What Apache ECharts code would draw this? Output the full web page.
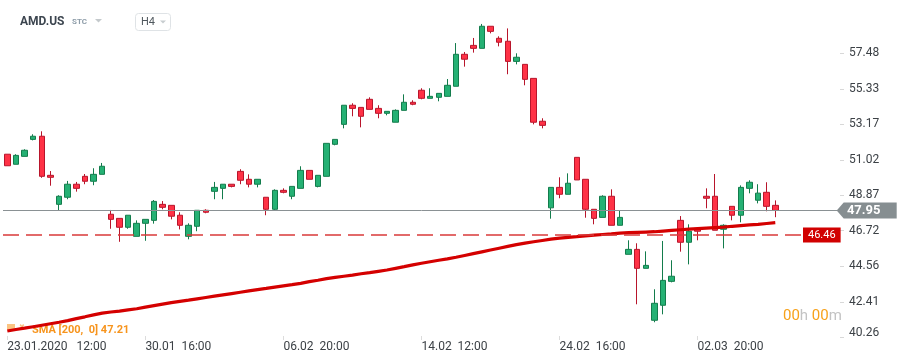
<!DOCTYPE html>
<html><head><meta charset="utf-8">
<script src="https://cdn.jsdelivr.net/npm/echarts@6/dist/echarts.min.js"></script>
<style>html,body{margin:0;padding:0;background:#fff}#c{width:908px;height:363px}</style>
</head><body><div id="c"></div>
<script>
const categories = [
'23.01.2020 12:00','23.01.2020 16:00','23.01.2020 20:00',
'24.01.2020 12:00','24.01.2020 16:00','24.01.2020 20:00',
'27.01.2020 12:00','27.01.2020 16:00','27.01.2020 20:00',
'28.01.2020 12:00','28.01.2020 16:00','28.01.2020 20:00',
'29.01.2020 12:00','29.01.2020 16:00','29.01.2020 20:00',
'30.01.2020 12:00','30.01.2020 16:00','30.01.2020 20:00',
'31.01.2020 12:00','31.01.2020 16:00','31.01.2020 20:00',
'03.02.2020 12:00','03.02.2020 16:00','03.02.2020 20:00',
'04.02.2020 12:00','04.02.2020 16:00','04.02.2020 20:00',
'05.02.2020 12:00','05.02.2020 16:00','05.02.2020 20:00',
'06.02.2020 12:00','06.02.2020 16:00','06.02.2020 20:00',
'07.02.2020 12:00','07.02.2020 16:00','07.02.2020 20:00',
'10.02.2020 12:00','10.02.2020 16:00','10.02.2020 20:00',
'11.02.2020 12:00','11.02.2020 16:00','11.02.2020 20:00',
'12.02.2020 12:00','12.02.2020 16:00','12.02.2020 20:00',
'13.02.2020 12:00','13.02.2020 16:00','13.02.2020 20:00',
'14.02.2020 12:00','14.02.2020 16:00','14.02.2020 20:00',
'18.02.2020 12:00','18.02.2020 16:00','18.02.2020 20:00',
'19.02.2020 12:00','19.02.2020 16:00','19.02.2020 20:00',
'20.02.2020 12:00','20.02.2020 16:00','20.02.2020 20:00',
'21.02.2020 12:00','21.02.2020 16:00','21.02.2020 20:00',
'24.02.2020 12:00','24.02.2020 16:00','24.02.2020 20:00',
'25.02.2020 12:00','25.02.2020 16:00','25.02.2020 20:00',
'26.02.2020 12:00','26.02.2020 16:00','26.02.2020 20:00',
'27.02.2020 12:00','27.02.2020 16:00','27.02.2020 20:00',
'28.02.2020 12:00','28.02.2020 16:00','28.02.2020 20:00',
'02.03.2020 12:00','02.03.2020 16:00','02.03.2020 20:00',
'03.03.2020 12:00','03.03.2020 16:00','03.03.2020 20:00',
'04.03.2020 12:00','04.03.2020 16:00','04.03.2020 20:00',
'05.03.2020 12:00','05.03.2020 16:00','05.03.2020 20:00',
'06.03.2020 12:00','06.03.2020 16:00','06.03.2020 20:00',
'09.03.2020 12:00','09.03.2020 16:00','09.03.2020 20:00',
'10.03.2020 12:00'
];
const opens = [51.36,50.75,51.23,52.26,52.45,50.08,48.32,48.75,49.54,50.02,49.72,50.14,47.72,47.47,46.93,46.38,47.17,47.35,48.32,48.26,47.66,46.38,46.99,47.96,49.11,49.29,49.54,50.32,49.84,49.54,48.75,48.02,49.17,48.81,49.29,50.38,49.41,50.02,51.96,53.17,54.33,54.20,54.69,54.14,53.84,53.30,54.02,54.51,55.24,54.75,54.81,54.87,55.48,57.42,57.96,57.78,59.12,58.39,58.21,56.99,56.81,55.96,53.36,48.11,49.35,48.93,51.17,49.84,48.02,47.53,48.81,47.05,45.29,45.59,44.44,41.29,42.20,43.65,47.35,46.02,46.81,48.81,48.81,46.81,48.20,47.66,49.29,48.57,49.05,48.26];
const closes = [50.66,51.29,51.60,52.45,50.02,49.96,48.81,49.54,49.29,49.72,50.14,50.63,47.41,46.93,47.66,47.17,47.41,48.50,48.14,47.60,47.05,47.05,47.96,47.84,49.35,49.54,49.41,49.78,49.54,49.84,48.02,49.17,49.05,49.41,50.38,49.84,50.08,52.02,52.26,54.33,54.14,53.66,54.08,53.84,53.96,54.02,54.51,54.39,54.75,54.87,55.05,55.54,57.42,57.12,57.78,59.12,58.81,58.15,56.99,57.24,55.90,53.30,53.11,49.35,48.93,49.60,49.80,48.02,47.47,48.81,47.05,47.53,45.59,44.44,44.62,42.32,43.71,43.96,46.02,46.69,46.69,48.69,46.75,47.05,47.66,49.35,49.66,49.00,48.20,47.95];
const lows = [50.66,50.75,51.23,52.20,49.93,49.45,47.93,48.63,49.09,49.54,49.48,50.14,46.84,46.05,46.84,46.38,46.11,47.15,48.02,47.41,46.80,46.20,46.69,47.78,48.63,48.63,49.35,49.54,49.35,49.35,47.66,47.96,48.99,48.63,49.29,49.84,49.35,50.02,51.90,52.93,53.66,52.99,54.08,53.54,53.72,53.30,54.02,54.33,54.69,54.75,54.57,54.87,55.48,56.67,57.52,57.78,58.69,57.90,56.21,56.81,55.54,53.17,52.93,47.45,48.69,48.93,49.80,47.51,47.11,47.53,47.05,47.05,45.29,42.26,44.44,41.17,41.65,43.59,45.45,44.68,46.14,48.08,46.75,45.65,47.35,47.23,48.99,48.38,47.90,47.54];
const highs = [51.36,51.36,51.66,52.57,52.75,50.34,48.87,49.74,49.68,50.16,50.51,50.83,47.98,47.47,47.66,47.35,47.41,48.58,48.52,48.26,47.84,47.17,47.96,48.02,49.68,49.54,49.54,50.45,50.14,49.84,48.75,49.23,49.29,49.41,50.63,50.38,50.08,52.02,52.26,54.33,54.45,54.20,54.81,54.33,53.96,54.08,54.99,54.63,55.36,55.36,55.05,55.92,58.10,57.56,58.41,59.26,59.12,58.51,58.99,57.48,56.81,55.96,53.54,49.35,49.96,50.20,51.17,49.84,48.02,48.87,49.23,47.96,46.14,45.96,45.47,43.17,46.10,44.93,47.61,47.11,46.93,49.29,50.16,47.11,48.20,49.47,49.78,49.54,49.66,48.56];
const smaValues = [40.64,40.73,40.81,40.90,40.99,41.08,41.17,41.27,41.39,41.50,41.62,41.72,41.79,41.85,41.92,41.99,42.09,42.18,42.27,42.36,42.44,42.51,42.59,42.67,42.75,42.83,42.91,42.99,43.07,43.15,43.22,43.30,43.38,43.45,43.53,43.63,43.72,43.82,43.89,43.96,44.03,44.11,44.18,44.26,44.34,44.44,44.54,44.65,44.75,44.84,44.93,45.01,45.11,45.22,45.33,45.44,45.55,45.66,45.77,45.88,45.97,46.05,46.13,46.21,46.27,46.32,46.36,46.41,46.45,46.49,46.53,46.58,46.60,46.62,46.64,46.66,46.70,46.74,46.78,46.82,46.85,46.88,46.91,46.94,46.99,47.03,47.07,47.11,47.16,47.21];
const yTickLabels = ['40.26','42.41','44.56','46.72','48.87','51.02','53.17','55.33','57.48'];
const lastPrice = 47.95;
const levelPrice = 46.46;
const symbolName = 'AMD.US';
const smaLabel = 'SMA [200,  0] 47.21';

const yTickValues = yTickLabels.map(Number);
const ohlc = opens.map((o, i) => [o, closes[i], lows[i], highs[i]]);
const labelEvery = (i) => i % 16 === 0 && i < opens.length;

const chart = echarts.init(document.getElementById('c'), null, {renderer: 'canvas'});
chart.setOption({
  animation: false,
  backgroundColor: '#ffffff',
  textStyle: {fontFamily: 'Roboto'},
  grid: {left: 3, right: 68, top: 0, bottom: 23},
  xAxis: {
    type: 'category', data: categories, boundaryGap: true,
    axisLine: {show: false}, splitLine: {show: false},
    axisTick: {show: true, inside: true, length: 4, alignWithLabel: true, interval: labelEvery, lineStyle: {color: '#dcdcdc'}},
    axisLabel: {
      interval: labelEvery, align: 'left', margin: 1, color: '#3c4146', fontSize: 12, fontFamily: 'Roboto',
      formatter: (v, i) => { const p = v.split(' '); return i === 0 ? p[0] + '   ' + p[1] : p[0].slice(0, 5) + '  ' + p[1]; }
    }
  },
  yAxis: {
    type: 'value', position: 'right', min: 40.094, max: 60.712,
    axisLine: {show: false}, splitLine: {show: false},
    axisTick: {show: true, length: 4, customValues: yTickValues, lineStyle: {color: '#d8d8d8'}},
    axisLabel: {
      customValues: yTickValues, margin: 9, color: '#3c4146', fontSize: 12, fontFamily: 'Roboto',
      formatter: (v) => { const s = v.toFixed(2); return s === yTickLabels[0] ? '{low|' + s + '}' : s; },
      rich: {low: {padding: [0, 0, 9, 0], color: '#3c4146', fontSize: 12, fontFamily: 'Roboto'}}
    }
  },
  series: [
    {
      type: 'candlestick', data: ohlc, barWidth: 6,
      itemStyle: {color: '#25b174', color0: '#ff3246', borderColor: '#137c4c', borderColor0: '#b8152b', borderWidth: 1},
      markLine: {
        silent: true, symbol: ['none', 'none'], animation: false,
        data: [
          {yAxis: lastPrice, lineStyle: {color: '#8a9194', width: 1, type: 'solid'}, label: {show: false}},
          {yAxis: levelPrice, lineStyle: {color: '#d93a3a', width: 1.5, type: [16, 7]},
           label: {show: true, position: 'end', distance: -37, formatter: () => levelPrice.toFixed(2),
                   backgroundColor: '#d10000', color: '#ffffff', fontSize: 11, fontFamily: 'Roboto', padding: [2, 5, 2, 5]}}
        ]
      },
      markPoint: {
        silent: true, animation: false,
        symbol: 'path://M0,8L7,0L60,0L60,16L7,16Z', symbolSize: [60, 16], symbolKeepAspect: false, symbolOffset: [31, 0],
        itemStyle: {color: '#868e91'},
        label: {show: true, position: 'inside', offset: [-3, 0], formatter: () => lastPrice.toFixed(2), color: '#ffffff', fontSize: 13, fontWeight: 'bold', fontFamily: 'Roboto'},
        data: [{coord: [categories.length - 1, lastPrice], value: lastPrice}]
      }
    },
    {
      type: 'line', data: smaValues, showSymbol: false, smooth: false, silent: true,
      lineStyle: {color: '#d40000', width: 3.2}, z: 3
    }
  ],
  graphic: [
    {type: 'text', left: 20, top: 16, style: {text: symbolName, fill: '#3d4650', font: 'bold 12px Roboto'}},
    {type: 'text', left: 72, top: 18, style: {text: 'STC', fill: '#8d9ca8', font: 'bold 8px Roboto'}},
    {type: 'polygon', shape: {points: [[95, 19], [102, 19], [98.5, 22.5]]}, style: {fill: '#c4c9cc'}},
    {type: 'rect', shape: {x: 135.5, y: 13.5, width: 35, height: 17, r: 3}, style: {fill: '#fff', stroke: '#dfe3e6', lineWidth: 1}},
    {type: 'text', left: 141, top: 17, style: {text: 'H4', fill: '#50585e', font: '11px Roboto'}},
    {type: 'polygon', shape: {points: [[160, 20.5], [166, 20.5], [163, 23.5]]}, style: {fill: '#c8cdd0'}},
    {type: 'text', left: 783, top: 309, style: {
      text: '{o|00}{g|h }{o|00}{g|m}',
      rich: {o: {fill: '#f7a11a', font: '15px Roboto'}, g: {fill: '#c3c3c3', font: '15px Roboto'}}
    }},
    {type: 'rect', shape: {x: 7, y: 324, width: 8, height: 6}, style: {fill: '#f7941d', opacity: 0.55}},
    {type: 'text', left: 19, top: 324, style: {text: '✖', fill: '#f7941d', opacity: 0.55, font: '7px sans-serif'}},
    {type: 'text', left: 32, top: 325, style: {text: smaLabel, fill: '#f7941d', font: 'bold 11px Roboto'}}
  ]
});
</script></body></html>
